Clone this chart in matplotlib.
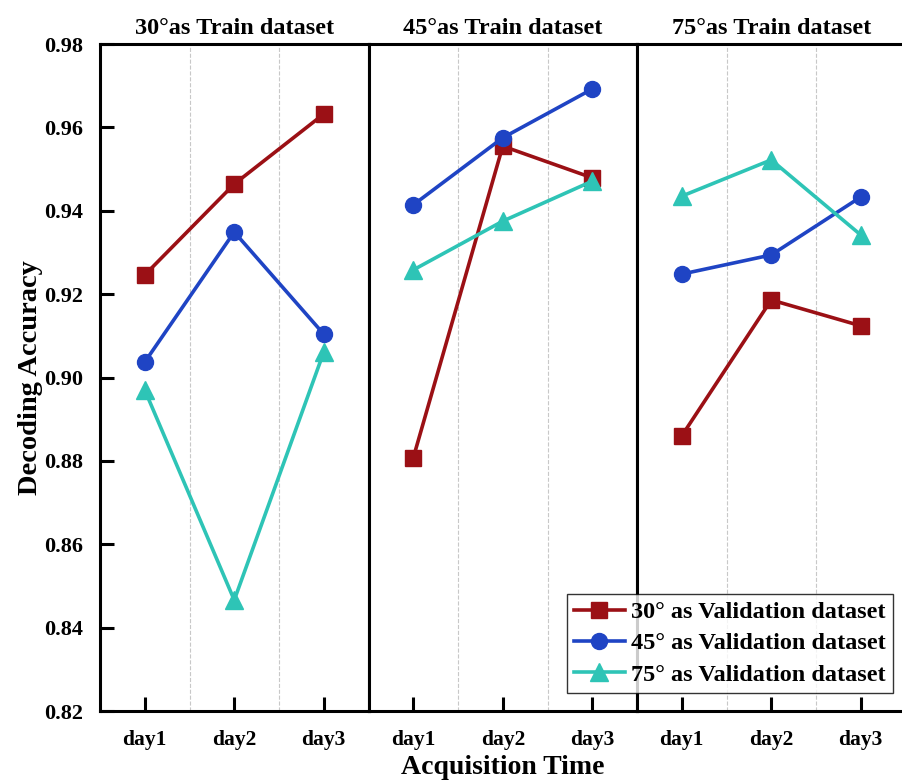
import matplotlib
matplotlib.use("Agg")
import matplotlib.pyplot as plt

plt.rcParams['font.family'] = ['Liberation Serif', 'DejaVu Serif']
plt.rcParams['font.weight'] = 'bold'

days = ["day1", "day2", "day3"]
train_titles = ["30\u00b0as Train dataset", "45\u00b0as Train dataset", "75\u00b0as Train dataset"]
series_names = ["30\u00b0 as Validation dataset", "45\u00b0 as Validation dataset", "75\u00b0 as Validation dataset"]

# one list per train panel, values for day1..day3
val30 = [[0.9246, 0.9464, 0.9632], [0.8807, 0.9555, 0.9479], [0.8860, 0.9186, 0.9124]]
val45 = [[0.9037, 0.9349, 0.9104], [0.9414, 0.9575, 0.9692], [0.9248, 0.9294, 0.9433]]
val75 = [[0.8970, 0.8466, 0.9061], [0.9258, 0.9375, 0.9471], [0.9435, 0.9522, 0.9342]]

colors = ["#9B1015", "#1F44C4", "#2EC4B6"]
markers = ["s", "o", "^"]

fig, axes = plt.subplots(1, 3, sharey=True, figsize=(9.03, 7.83), dpi=100)
fig.subplots_adjust(left=100/903, right=905.5/903, top=1-44/783, bottom=1-711/783, wspace=0)

x = [1, 2, 3]
for i, ax in enumerate(axes):
    for vals, c, m, name in zip([val30, val45, val75], colors, markers, series_names):
        ms = 13 if m == "^" else 11.5
        ax.plot(x, vals[i], color=c, marker=m, markersize=ms, linewidth=2.6, label=name)
    for g in [1.5, 2.5]:
        ax.axvline(g, color="#c8c8c8", linestyle="--", linewidth=0.8, zorder=0)
    ax.set_xlim(0.5, 3.5)
    ax.set_xticks(x)
    ax.set_xticklabels(days)
    ax.set_title(train_titles[i], fontsize=17.5, fontweight="bold", pad=7)
    for s in ax.spines.values():
        s.set_linewidth(2.2)
    ax.tick_params(axis="x", direction="in", length=10, width=2.2, labelsize=15.5, pad=14)
    ax.tick_params(axis="y", direction="in", length=10, width=2.2, labelsize=16, pad=12)
    if i > 0:
        ax.tick_params(axis="y", left=False)

axes[0].set_ylim(0.82, 0.98)
axes[0].set_yticks([0.82, 0.84, 0.86, 0.88, 0.90, 0.92, 0.94, 0.96, 0.98])
axes[0].set_yticklabels(["%.2f" % v for v in axes[0].get_yticks()])
axes[0].set_ylabel("Decoding Accuracy", fontsize=20.5, fontweight="bold")
axes[0].yaxis.set_label_coords(-57/268.5, 0.5)

fig.text(503/903, 1-768/783, "Acquisition Time", ha="center", va="center", fontsize=20, fontweight="bold")

handles, labels = axes[0].get_legend_handles_labels()
leg = fig.legend(handles, labels, loc="lower right", bbox_to_anchor=(893/903, 1-693/783),
                 fontsize=17.5, frameon=True, fancybox=False, edgecolor="black",
                 borderpad=0.3, labelspacing=0.38, handlelength=2.1, handletextpad=0.25,
                 borderaxespad=0)
leg.get_frame().set_linewidth(1.0)

fig.savefig("out.png", dpi=100)
